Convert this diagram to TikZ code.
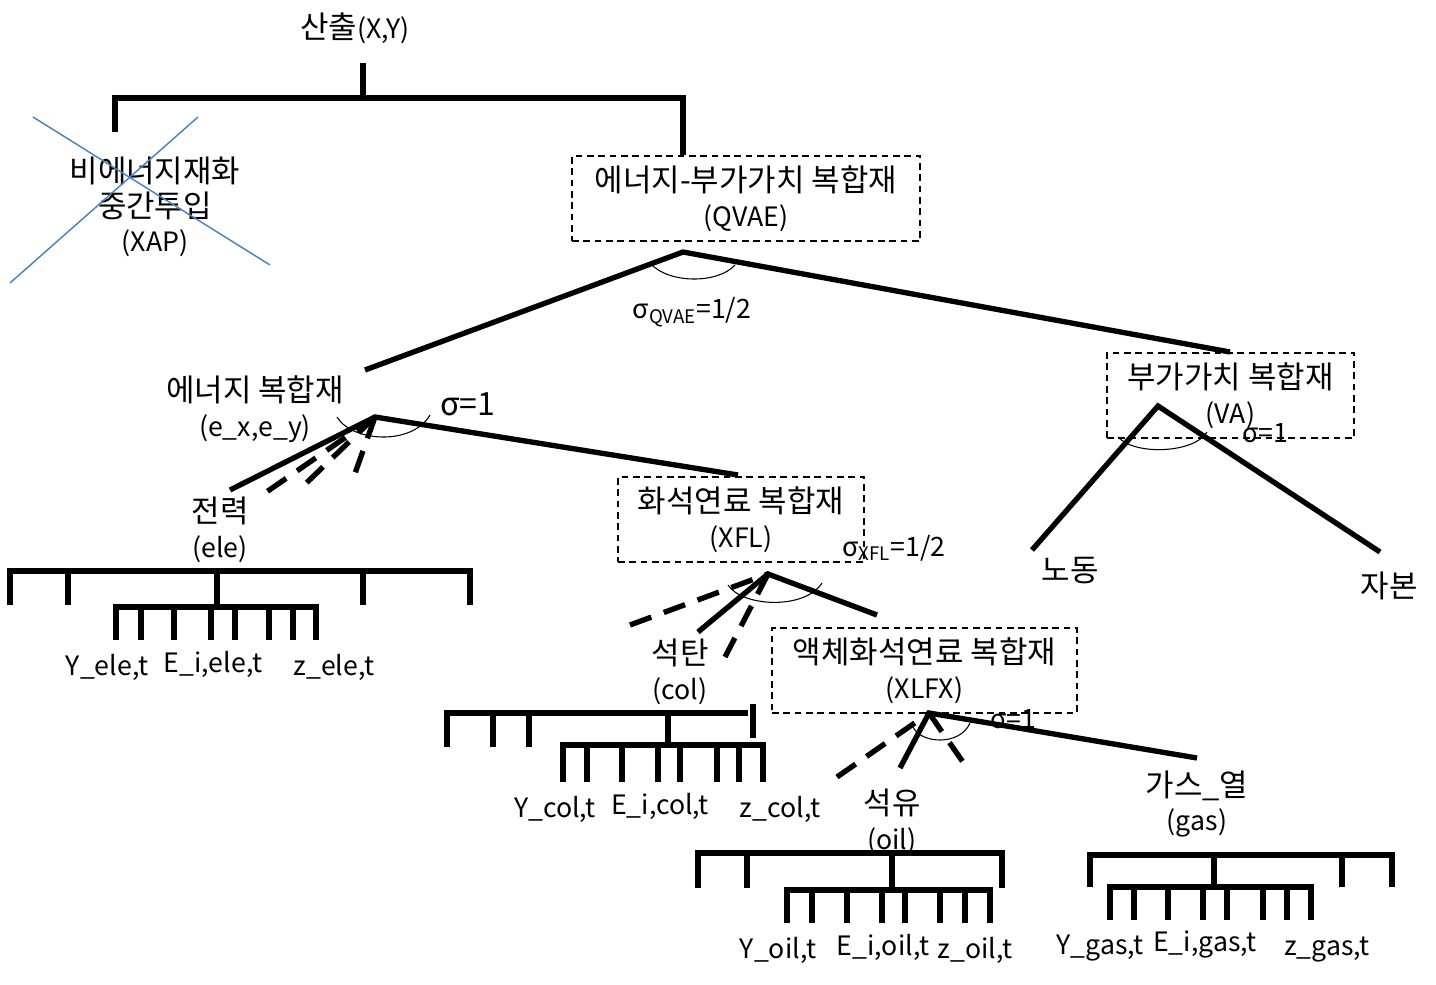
\documentclass[tikz,border=0pt]{standalone}
\usepackage{fontspec}
\setmainfont{Noto Sans CJK KR}
\newfontfamily\krfont[Scale=1.16]{Noto Sans CJK KR}
\newcommand\hg[1]{{\krfont #1}}
\definecolor{xblue}{RGB}{79,129,189}
\begin{document}
\begin{tikzpicture}[x=0.75pt,y=-0.75pt,
  lbl/.style={font=\fontsize{20}{26}\selectfont, align=center, inner sep=0pt},
  dbox/.style={draw, line width=1.1pt, dash pattern=on 5pt off 3.5pt, align=center,
     font=\fontsize{20}{26}\selectfont, inner sep=0pt},
  br/.style={line width=4pt, line cap=butt},
  dbr/.style={line width=4pt, dash pattern=on 17pt off 10pt},
  comb/.style={line width=4pt, line join=miter, line cap=butt},
  arcl/.style={line width=0.8pt},
  cross/.style={draw=xblue, line width=1.1pt}]
\useasboundingbox (0,0) rectangle (1436,985);

% ---------- top level ----------
\node[lbl] (out) at (355,28) {\hg{산출}(X,Y)};
\coordinate (topstem) at (363,63);
\coordinate (topj) at (363,98);
\coordinate (xapend) at (115,132);
\coordinate (qvaeend) at (683,155);
\draw[comb] (topstem) -- (topj);
\draw[comb] (xapend) -- (115,98) -- (683,98) -- (qvaeend);

\node[lbl] (xap) at (155,207) {\hg{비에너지재화}\\\hg{중간투입}\\(XAP)};
\coordinate (c1a) at (33,117); \coordinate (c1b) at (270,265);
\coordinate (c2a) at (198,117); \coordinate (c2b) at (10,283);
\draw[cross] (c1a) -- (c1b);
\draw[cross] (c2a) -- (c2b);

\node[dbox, minimum width=261pt, minimum height=63.75pt] (qvae) at (746,198.5)
  {\hg{에너지-부가가치 복합재}\\(QVAE)};

% ---------- QVAE split ----------
\coordinate (qa) at (683,252);
\coordinate (ena) at (365,370);
\coordinate (vat) at (1230,352);
\draw[br] (ena) -- (qa) -- (vat);
\draw[arcl] (650,263) .. controls (668,284) and (718,284) .. (735,265);
\node[lbl] (sq) at (692,312) {σ\textsubscript{QVAE}=1/2};

% ---------- energy composite ----------
\node[lbl] (en) at (255,409) {\hg{에너지 복합재}\\(e\_x,e\_y)};
\coordinate (ea) at (375,417);
\coordinate (eleend) at (230,490);
\coordinate (xflt) at (738,475);
\draw[br] (eleend) -- (ea) -- (xflt);
\coordinate (ed1) at (265,493);
\coordinate (ed2) at (298,491);
\coordinate (ed3) at (353,479);
\draw[dbr] (ea) -- (ed1);
\draw[dbr] (ea) -- (ed2);
\draw[dbr] (ea) -- (ed3);
\draw[arcl] (337,417) .. controls (352,442) and (412,446) .. (430,415);
\node[lbl, font=\fontsize{24}{28}\selectfont] (se) at (468,404) {σ=1};

\node[lbl] (ele) at (220,530) {\hg{전력}\\(ele)};

% ele comb
\draw[comb] (10,605) -- (10,571) -- (470,571) -- (470,605);
\foreach \x in {68,363} \draw[comb] (\x,571) -- (\x,605);
\draw[comb] (217,571) -- (217,607);
\draw[comb] (116,640) -- (116,607) -- (316,607) -- (316,640);
\foreach \x in {141,174,211,235,269,293} \draw[comb] (\x,607) -- (\x,640);
\node[lbl] (yele) at (107,667) {Y\_ele,t};
\node[lbl] (eele) at (213,664) {E\_i,ele,t};
\node[lbl] (zele) at (334,667) {z\_ele,t};

% ---------- XFL ----------
\node[dbox, minimum width=184.5pt, minimum height=63.75pt] (xfl) at (741,519.5)
  {\hg{화석연료 복합재}\\(XFL)};
\node[lbl] (sx) at (894,548) {σ\textsubscript{XFL}=1/2};
\coordinate (fa) at (768,574);
\coordinate (colend) at (698,632);
\coordinate (xlfxt) at (877,615);
\draw[br] (colend) -- (fa) -- (xlfxt);
\coordinate (fd1) at (630,625);
\coordinate (fd2) at (725,657);
\draw[dbr] (fd1) -- (fa);
\draw[dbr] (fa) -- (fd2);
\draw[arcl] (728,585) .. controls (742,607) and (805,610) .. (822,583);

\node[lbl] (col) at (680,672) {\hg{석탄}\\(col)};

% col comb
\draw[comb] (447,747) -- (447,713) -- (748,713);
\foreach \x in {493,529} \draw[comb] (\x,713) -- (\x,747);
\draw[comb] (753,704) -- (753,738);
\draw[comb] (668,713) -- (668,745);
\draw[comb] (563,782) -- (563,745) -- (763,745) -- (763,782);
\foreach \x in {587,622,658,680,717,739} \draw[comb] (\x,745) -- (\x,782);
\node[lbl] (ycol) at (555,809) {Y\_col,t};
\node[lbl] (ecol) at (660,806) {E\_i,col,t};
\node[lbl] (zcol) at (780,809) {z\_col,t};

% ---------- XLFX ----------
\node[dbox, minimum width=228.75pt, minimum height=63.75pt] (xlfx) at (924.5,670.5)
  {\hg{액체화석연료 복합재}\\(XLFX)};
\node[lbl] (sl) at (1013,719) {σ=1};
\coordinate (la) at (929,713);
\coordinate (oilend) at (900,768);
\coordinate (gasend) at (1197,758);
\draw[br] (oilend) -- (la) -- (gasend);
\coordinate (ld1) at (837,777);
\coordinate (ld2) at (965,765);
\draw[dbr] (ld1) -- (la);
\draw[dbr] (la) -- (ld2);
\draw[arcl] (913,727) .. controls (921,744) and (960,746) .. (970,723);

\node[lbl] (oil) at (892,822) {\hg{석유}\\(oil)};
\node[lbl] (gas) at (1197,804) {\hg{가스\_열}\\(gas)};

% oil comb
\draw[comb] (698,888) -- (698,853) -- (1002,853) -- (1002,888);
\draw[comb] (747,853) -- (747,888);
\draw[comb] (892,853) -- (892,890);
\draw[comb] (787,923) -- (787,890) -- (990,890) -- (990,923);
\foreach \x in {812,847,882,905,940,965} \draw[comb] (\x,890) -- (\x,923);
\node[lbl] (yoil) at (778,950) {Y\_oil,t};
\node[lbl] (eoil) at (883,947) {E\_i,oil,t};
\node[lbl] (zoil) at (975,950) {z\_oil,t};

% gas comb
\draw[comb] (1090,887) -- (1090,855) -- (1392,855) -- (1392,887);
\draw[comb] (1342,855) -- (1342,887);
\draw[comb] (1214,855) -- (1214,887);
\draw[comb] (1110,920) -- (1110,887) -- (1311,887) -- (1311,920);
\foreach \x in {1134,1168,1203,1227,1263,1287} \draw[comb] (\x,887) -- (\x,920);
\node[lbl] (ygas) at (1100,948) {Y\_gas,t};
\node[lbl] (egas) at (1205,944) {E\_i,gas,t};
\node[lbl] (zgas) at (1327,950) {z\_gas,t};

% ---------- VA ----------
\node[dbox, minimum width=185.25pt, minimum height=63.75pt] (va) at (1230.5,395.5)
  {\hg{부가가치 복합재}\\(VA)};
\coordinate (vaa) at (1158,406);
\coordinate (labend) at (1032,550);
\coordinate (capend) at (1380,552);
\draw[br] (labend) -- (vaa) -- (capend);
\draw[arcl] (1118,437) .. controls (1135,456) and (1195,453) .. (1207,432);
\node[lbl] (sv) at (1265,433) {σ=1};
\node[lbl] (lab) at (1070,571) {\hg{노동}};
\node[lbl] (cap) at (1389,586) {\hg{자본}};
\end{tikzpicture}
\end{document}
